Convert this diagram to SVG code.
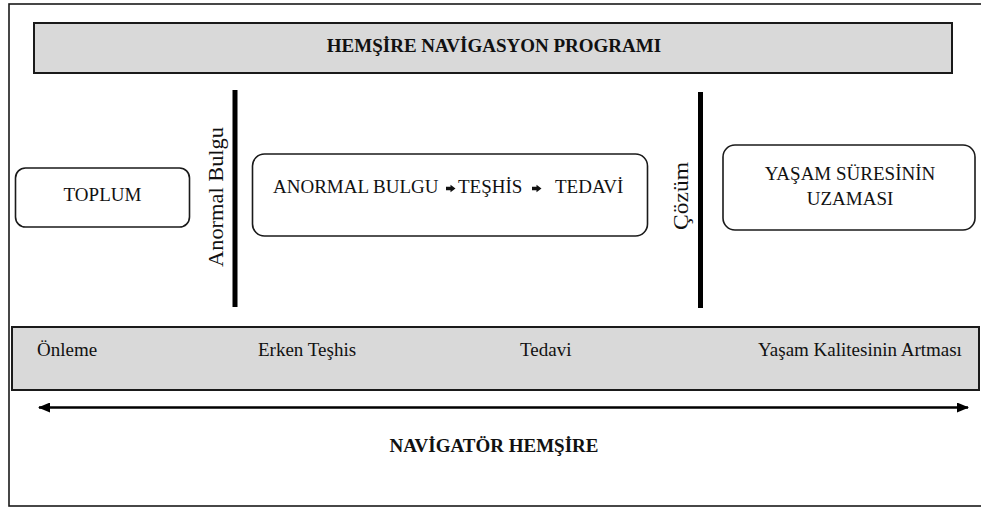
<svg xmlns="http://www.w3.org/2000/svg" width="981" height="508" viewBox="0 0 981 508">
<style>
  .t { font-family: "Liberation Serif", "DejaVu Serif", serif; font-size: 19px; fill: #111; }
  .b { font-weight: bold; }
  .band { fill: #d9d9d9; stroke: #1a1a1a; stroke-width: 2; }
  .node { fill: #ffffff; stroke: #1a1a1a; stroke-width: 1.6; }
  .bar { stroke: #000; stroke-width: 5; }
  .sym { fill: #111; }
</style>
<defs>
  <marker id="ah" viewBox="0 0 12 10" refX="11" refY="5" markerWidth="12" markerHeight="10" markerUnits="userSpaceOnUse" orient="auto-start-reverse">
    <path d="M0,0 L12,5 L0,10 Z" fill="#000"/>
  </marker>
  <path id="blk" d="M0,-1.8 L4.5,-1.8 L4.5,-3.8 L9.5,0 L4.5,3.8 L4.5,1.8 L0,1.8 Z"/>
</defs>
<rect x="0" y="0" width="981" height="508" fill="#ffffff"/>
<rect x="9" y="4" width="976" height="502" fill="none" stroke="#1a1a1a" stroke-width="1.6"/>

<g id="title">
  <rect class="band" x="34" y="23" width="918" height="50"/>
  <text class="t b" x="494" y="52" text-anchor="middle">HEMŞİRE NAVİGASYON PROGRAMI</text>
</g>

<g id="toplum">
  <rect class="node" x="15.5" y="168" width="174" height="59" rx="10"/>
  <text class="t" x="102.5" y="201" text-anchor="middle">TOPLUM</text>
</g>

<g id="anormal-bulgu-label">
  <text class="t" transform="translate(223,197) rotate(-90)" text-anchor="middle" style="font-size:20px" textLength="140" lengthAdjust="spacingAndGlyphs">Anormal Bulgu</text>
</g>

<g id="surec">
  <rect class="node" x="252.5" y="154" width="395" height="82" rx="12"/>
  <text class="t" x="273" y="193">ANORMAL BULGU</text>
  <use href="#blk" class="sym" x="446" y="188.5"/>
  <text class="t" x="458" y="193">TEŞHİS</text>
  <use href="#blk" class="sym" x="532" y="188.5"/>
  <text class="t" x="555" y="193">TEDAVİ</text>
</g>

<g id="cozum-label">
  <text class="t" transform="translate(688,196) rotate(-90)" text-anchor="middle" style="font-size:20px" textLength="68" lengthAdjust="spacingAndGlyphs">Çözüm</text>
</g>

<g id="yasam-suresi">
  <rect class="node" x="723" y="145" width="252" height="85" rx="12"/>
  <text class="t" x="850" y="180" text-anchor="middle">YAŞAM SÜRESİNİN</text>
  <text class="t" x="850" y="205" text-anchor="middle">UZAMASI</text>
</g>

<g id="asamalar">
  <rect class="band" x="12" y="327" width="967" height="63"/>
  <text class="t" x="37" y="356">Önleme</text>
  <text class="t" x="258" y="356">Erken Teşhis</text>
  <text class="t" x="520" y="356">Tedavi</text>
  <text class="t" x="758" y="356">Yaşam Kalitesinin Artması</text>
</g>

<g id="navigator">
  <text class="t b" x="494" y="452" text-anchor="middle">NAVİGATÖR HEMŞİRE</text>
</g>

<g id="connectors">
  <line class="bar" x1="235" y1="90" x2="235" y2="307"/>
  <line class="bar" x1="700.5" y1="92" x2="700.5" y2="308"/>
  <line x1="39" y1="407.5" x2="968" y2="407.5" stroke="#000" stroke-width="2.5" marker-start="url(#ah)" marker-end="url(#ah)"/>
</g>
</svg>
